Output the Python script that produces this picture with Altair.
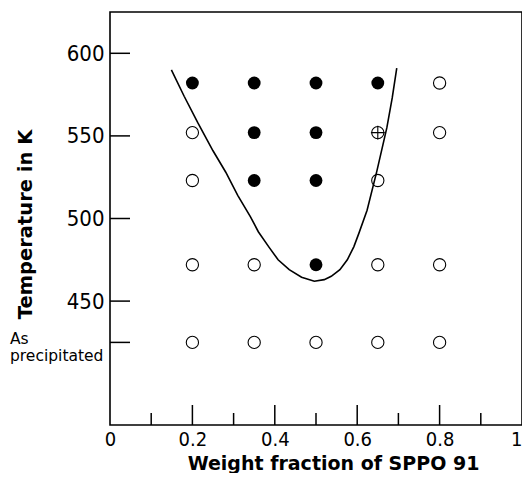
import altair as alt
import pandas as pd

# ---- data ----
pt_x = [0.2, 0.35, 0.5, 0.65, 0.8,
        0.2, 0.35, 0.5, 0.65, 0.8,
        0.2, 0.35, 0.5, 0.65,
        0.2, 0.35, 0.5, 0.65, 0.8,
        0.2, 0.35, 0.5, 0.65, 0.8]
pt_t = [582] * 5 + [552] * 5 + [523] * 4 + [472] * 5 + [425] * 5
pt_state = (["filled"] * 4 + ["open"]
            + ["open", "filled", "filled", "crossed", "open"]
            + ["open", "filled", "filled", "open"]
            + ["open", "open", "filled", "open", "open"]
            + ["open"] * 5)

curve_x = [0.149, 0.18, 0.213, 0.25, 0.281, 0.31, 0.341, 0.36, 0.385, 0.408,
           0.435, 0.465, 0.496, 0.52, 0.537, 0.558, 0.576, 0.592, 0.604,
           0.624, 0.648, 0.672, 0.685, 0.696]
curve_t = [590, 574, 558, 541, 528, 514, 501, 492, 483, 475,
           469, 464.5, 462, 463, 465, 469, 475, 483, 491,
           505, 529, 555, 573, 591]

x_major = [0.2, 0.4, 0.6, 0.8]
x_minor = [0.1, 0.3, 0.5, 0.7, 0.9]
x_labels = [0, 0.2, 0.4, 0.6, 0.8, 1]
y_ticks = [425, 450, 500, 550, 600]
y_labels = [450, 500, 550, 600]
special_t = [425]
special_label = ["As\nprecipitated"]

points = pd.DataFrame({"x": pt_x, "t": pt_t, "state": pt_state})
curve = pd.DataFrame({"x": curve_x, "t": curve_t})
xmaj = pd.DataFrame({"x": x_major})
xmin = pd.DataFrame({"x": x_minor})
ytk = pd.DataFrame({"t": y_ticks})
special = pd.DataFrame({"t": special_t, "label": special_label})

W, H = 412, 413
LABEL_FONT = "DejaVu Sans Condensed"
TITLE_FONT = "DejaVu Sans"

xscale = alt.Scale(domain=[0, 1], nice=False, zero=False)
yscale = alt.Scale(domain=[375, 625], nice=False, zero=False)

xaxis = alt.Axis(
    values=x_labels, ticks=False, grid=False, domain=False,
    labelExpr="datum.value == 0 ? '0' : datum.value == 1 ? '1' : format(datum.value, '.1f')",
    labelFont=LABEL_FONT, labelFontSize=20, labelColor="black", labelPadding=4,
    labelFlush=False,
    labelAlign={"condition": {"test": "datum.value == 1", "value": "right"}, "value": "center"},
    title="Weight fraction of SPPO 91", titleFont=TITLE_FONT, titleFontSize=19,
    titleFontWeight="bold", titleColor="black", titleX=223, titleY=44,
    titleAlign="center", titleBaseline="alphabetic",
)
yaxis = alt.Axis(
    values=y_labels, ticks=False, grid=False, domain=False,
    labelColor="black", labelPadding=6,
    labelFont=LABEL_FONT, labelFontSize=22, labelBaseline="middle",
    title="Temperature in K", titleFont=TITLE_FONT, titleFontSize=19.5,
    titleFontWeight="bold", titleColor="black", titleAngle=-90,
    titleX=-85, titleY=212, titleAlign="center", titleBaseline="middle",
)

base_x = alt.X("x:Q", scale=xscale, axis=xaxis)
base_y = alt.Y("t:Q", scale=yscale, axis=yaxis)

line = alt.Chart(curve).mark_line(color="black", strokeWidth=1.6).encode(
    x=base_x, y=base_y, order="x:Q"
)

filled = alt.Chart(points).transform_filter("datum.state == 'filled'").mark_point(
    shape="circle", filled=True, color="black", size=165, opacity=1
).encode(x="x:Q", y="t:Q")

opn = alt.Chart(points).transform_filter("datum.state != 'filled'").mark_point(
    shape="circle", filled=False, color="black", strokeWidth=1.1, size=150, opacity=1
).encode(x="x:Q", y="t:Q")

cross = alt.Chart(points).transform_filter("datum.state == 'crossed'").mark_point(
    shape="M-1,0L1,0M0,-1L0,1", filled=False, color="black", strokeWidth=1.1,
    size=190, opacity=1
).encode(x="x:Q", y="t:Q")

tick_major = alt.Chart(xmaj).mark_rule(color="black", strokeWidth=1.5).encode(
    x="x:Q", y=alt.value(H), y2=alt.value(H - 20)
)
tick_minor = alt.Chart(xmin).mark_rule(color="black", strokeWidth=1.5).encode(
    x="x:Q", y=alt.value(H), y2=alt.value(H - 12)
)
tick_y = alt.Chart(ytk).mark_rule(color="black", strokeWidth=1.5).encode(
    y="t:Q", x=alt.value(0), x2=alt.value(20)
)

special_text = alt.Chart(special).mark_text(
    align="left", baseline="alphabetic", dy=2, lineBreak="\n", lineHeight=17,
    font=TITLE_FONT, fontSize=15.5, color="black"
).encode(y="t:Q", x=alt.value(-100), text="label:N")

chart = alt.layer(line, tick_major, tick_minor, tick_y, opn, cross, filled,
                  special_text).properties(
    width=W, height=H,
    background="white",
    autosize=alt.AutoSizeParams(type="none"),
    padding={"left": 102, "top": 4, "right": 0, "bottom": 48},
).configure_view(
    stroke="black", strokeWidth=1.6
)

chart.save("out.html", embed_options={"renderer": "svg", "actions": False})
